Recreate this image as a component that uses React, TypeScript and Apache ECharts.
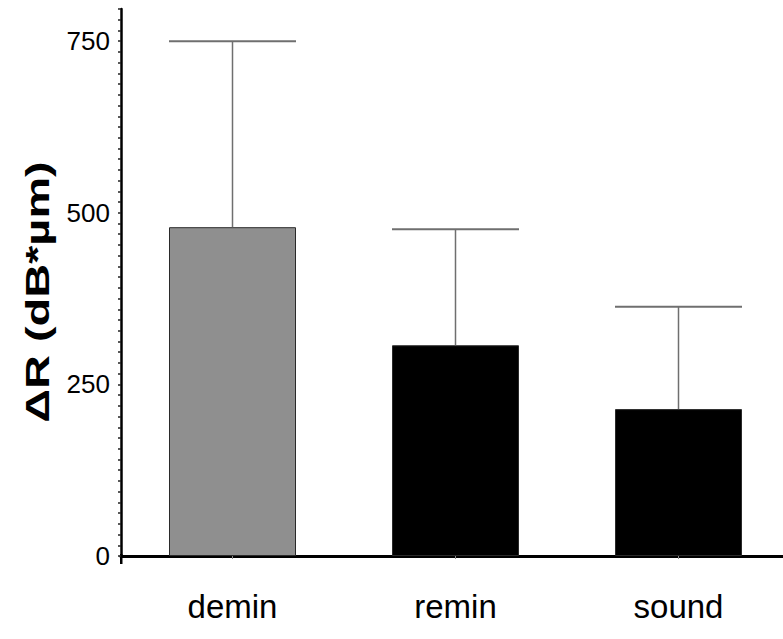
import React, { useEffect, useRef } from "react";
import * as echarts from "echarts";

const categories: string[] = ["demin", "remin", "sound"];
const means: number[] = [479, 307, 214];
const sds: number[] = [271, 169, 149];
const yTickLabels: number[] = [0, 250, 500, 750];
const yTitle = "ΔR (dB*µm)";

const SANS = "'Liberation Sans', Arial, sans-serif";

export default function App() {
  const ref = useRef<HTMLDivElement>(null);
  useEffect(() => {
    document.body.style.margin = "0";
    document.body.style.overflow = "hidden";
    if (!ref.current) return;
    const chart = echarts.init(ref.current, null, { renderer: "svg" });
    const barWidth = 127;
    const errData = categories.map((_, i) => [i, means[i], means[i] + sds[i]]);
    chart.setOption({
      animation: false,
      backgroundColor: "#ffffff",
      grid: { left: 121, top: 9, width: 669, bottom: 83, containLabel: false },
      xAxis: {
        type: "category",
        data: categories,
        offset: 7,
        axisLine: { show: true, lineStyle: { color: "#000", width: 3 } },
        axisTick: { show: true, alignWithLabel: true, length: 3, lineStyle: { color: "#888", width: 1 } },
        axisLabel: { color: "#000", fontSize: 33, fontFamily: SANS, margin: 27 },
        splitLine: { show: false },
      },
      yAxis: {
        type: "value",
        min: 0,
        max: 796.875,
        interval: 15.625,
        axisLine: { show: true, lineStyle: { color: "#000", width: 2.5 } },
        axisTick: { show: true, inside: false, length: 3, lineStyle: { color: "#222", width: 1.5 } },
        axisLabel: {
          customValues: yTickLabels,
          formatter: (v: number) => (yTickLabels.indexOf(Math.round(v * 1000) / 1000) >= 0 ? String(v) : ""),
          color: "#000",
          fontSize: 26,
          fontFamily: SANS,
          margin: 11,
        },
        splitLine: { show: false },
      },
      graphic: [
        {
          type: "text",
          x: 37,
          y: 292,
          rotation: Math.PI / 2,
          scaleX: 1.38,
          scaleY: 1,
          style: {
            text: yTitle,
            fill: "#000",
            fontSize: 34,
            fontWeight: "bold",
            fontFamily: SANS,
            align: "center",
            verticalAlign: "middle",
          },
        },
        {
          type: "line",
          shape: { x1: 121.25, y1: 554, x2: 121.25, y2: 564 },
          style: { stroke: "#000", lineWidth: 2.5 },
        },
      ],
      series: [
        {
          type: "bar",
          data: means,
          barWidth: barWidth,
          itemStyle: {
            color: (p: any) => (p.dataIndex === 0 ? "#8f8f8f" : "#000000"),
            borderColor: "#2a2a2a",
            borderWidth: 1,
          },
          z: 2,
        },
        {
          type: "custom",
          data: errData,
          z: 3,
          renderItem: (params: any, api: any) => {
            const idx = api.value(0);
            const base = api.coord([idx, api.value(1)]);
            const top = api.coord([idx, api.value(2)]);
            const half = barWidth / 2;
            return {
              type: "group",
              children: [
                {
                  type: "line",
                  shape: { x1: base[0], y1: base[1], x2: top[0], y2: top[1] },
                  style: { stroke: "#6f6f6f", lineWidth: 1.5 },
                },
                {
                  type: "line",
                  shape: { x1: top[0] - half, y1: top[1], x2: top[0] + half, y2: top[1] },
                  style: { stroke: "#6f6f6f", lineWidth: 2 },
                },
              ],
            };
          },
        },
      ],
    });
    return () => chart.dispose();
  }, []);
  return <div ref={ref} style={{ position: "fixed", left: 0, top: 0, width: 800, height: 639 }} />;
}
